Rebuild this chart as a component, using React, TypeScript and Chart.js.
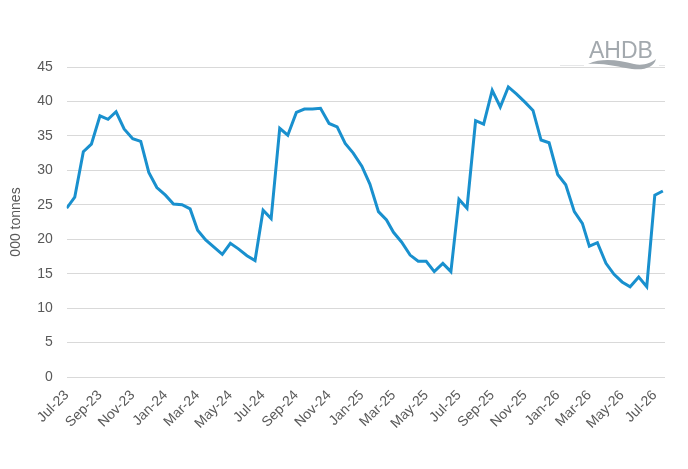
import React, { useEffect, useRef } from 'react';
import { Chart, registerables } from 'chart.js';

Chart.register(...registerables);

// Semi-monthly observations (1st and 16th of each month), Jul-23 .. Jul-26, '000 tonnes
const startYear = 2023;
const startMonth = 6; // July (0-based)
const daysInMonthOfObs = [1, 16];

const values2023 = [24.5, 26.1, 32.7, 33.8, 37.9, 37.4, 38.5, 36.0, 34.6, 34.2, 29.7, 27.5];
const values2024 = [26.4, 25.1, 25.0, 24.4, 21.3, 19.9, 18.8, 17.8, 19.4, 18.6, 17.6, 16.9,
  24.2, 23.0, 36.1, 35.1, 38.4, 38.9, 38.9, 39.0, 36.8, 36.3, 33.9, 32.5];
const values2025 = [30.6, 28.0, 24.0, 22.8, 21.0, 19.6, 17.7, 16.8, 16.8, 15.3, 16.5, 15.3,
  25.8, 24.5, 37.2, 36.7, 41.6, 39.2, 42.1, 41.1, 39.9, 38.7, 34.4, 34.0];
const values2026 = [29.4, 27.9, 24.0, 22.3, 19.0, 19.5, 16.5, 14.9, 13.8, 13.1, 14.5, 13.1, 26.4, 27.0];

const seriesValues = [...values2023, ...values2024, ...values2025, ...values2026];

const tickLabels = ['Jul-23', 'Sep-23', 'Nov-23', 'Jan-24', 'Mar-24', 'May-24', 'Jul-24', 'Sep-24',
  'Nov-24', 'Jan-25', 'Mar-25', 'May-25', 'Jul-25', 'Sep-25', 'Nov-25', 'Jan-26', 'Mar-26', 'May-26', 'Jul-26'];

const yTicks = [0, 5, 10, 15, 20, 25, 30, 35, 40, 45];
const yTitle = '000 tonnes';
const logoText = 'AHDB';

const MONTHS = ['Jan', 'Feb', 'Mar', 'Apr', 'May', 'Jun', 'Jul', 'Aug', 'Sep', 'Oct', 'Nov', 'Dec'];
const DAY = 86400000;
const origin = Date.UTC(startYear, startMonth, 1);
const dayOffset = (y: number, m: number, d: number) => (Date.UTC(y, m, d) - origin) / DAY;

const points = seriesValues.map((v, i) => {
  const m = startMonth + Math.floor(i / 2);
  const d = daysInMonthOfObs[i % 2];
  return { x: dayOffset(startYear, m, d), y: v };
});

const tickDays = tickLabels.map((lab) => {
  const [mon, yy] = lab.split('-');
  return dayOffset(2000 + parseInt(yy, 10), MONTHS.indexOf(mon), 1);
});

const logoPlugin = {
  id: 'logo',
  afterDraw(chart: any) {
    const ctx = chart.ctx;
    ctx.save();
    ctx.fillStyle = '#a3a9ae';
    ctx.font = '23px "Liberation Sans", Arial, sans-serif';
    ctx.textAlign = 'left';
    ctx.textBaseline = 'alphabetic';
    ctx.fillText(logoText, 589, 57.5);
    // swoosh
    ctx.beginPath();
    ctx.moveTo(588, 64);
    ctx.bezierCurveTo(604, 57, 620, 61, 634, 64);
    ctx.bezierCurveTo(643, 66, 651, 63, 656, 59);
    ctx.bezierCurveTo(654, 67, 645, 70.5, 632, 69);
    ctx.bezierCurveTo(618, 67, 603, 62.5, 588, 64);
    ctx.closePath();
    ctx.fill();
    ctx.strokeStyle = '#e6e7e8';
    ctx.lineWidth = 1;
    ctx.beginPath();
    ctx.moveTo(560, 65.5);
    ctx.lineTo(584, 65.5);
    ctx.moveTo(659, 65.5);
    ctx.lineTo(665, 65.5);
    ctx.stroke();
    ctx.restore();
  },
};

export default function App() {
  const canvasRef = useRef<HTMLCanvasElement | null>(null);

  useEffect(() => {
    document.body.style.margin = '0';
    const canvas = canvasRef.current;
    if (!canvas) return;
    const font = { family: '"Liberation Sans", Arial, sans-serif', size: 14 };
    const chart = new Chart(canvas, {
      type: 'line',
      data: {
        datasets: [
          {
            data: points,
            borderColor: '#1990ce',
            borderWidth: 3,
            pointRadius: 0,
            tension: 0,
            fill: false,
          },
        ],
      },
      options: {
        responsive: false,
        animation: false,
        parsing: true,
        layout: { padding: { top: 67, right: 23, left: 0, bottom: 0 } },
        plugins: { legend: { display: false }, tooltip: { enabled: false } },
        scales: {
          x: {
            type: 'linear',
            min: 0,
            max: 1115,
            grid: { display: false, drawTicks: false },
            border: { display: false },
            afterBuildTicks: (scale: any) => {
              scale.ticks = tickDays.map((v) => ({ value: v }));
            },
            afterFit: (scale: any) => {
              scale.height = 92;
            },
            ticks: {
              autoSkip: false,
              maxRotation: 45,
              minRotation: 45,
              padding: 10,
              color: '#595959',
              font,
              callback: (_v: any, i: number) => tickLabels[i],
            },
          },
          y: {
            min: 0,
            max: 45,
            afterBuildTicks: (scale: any) => {
              scale.ticks = yTicks.map((v) => ({ value: v }));
            },
            afterFit: (scale: any) => {
              scale.width = 66.7;
            },
            grid: { color: '#d9d9d9', lineWidth: 1, drawTicks: false },
            border: { display: false },
            ticks: { padding: 14, color: '#595959', font },
            title: {
              display: true,
              text: yTitle,
              color: '#595959',
              font,
              padding: { top: 8, bottom: 0 },
            },
          },
        },
      },
      plugins: [logoPlugin],
    });
    return () => chart.destroy();
  }, []);

  return (
    <div style={{ position: 'absolute', left: 0, top: 0, width: 688, height: 469, background: '#fff' }}>
      <canvas ref={canvasRef} width={688} height={469} />
    </div>
  );
}
